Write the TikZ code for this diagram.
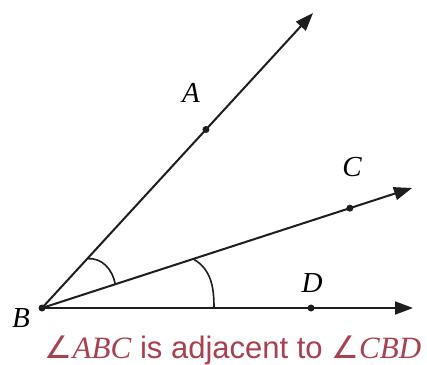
\documentclass[tikz,border=0pt]{standalone}
\usepackage{fontspec}
\setmainfont{Liberation Serif}
\newfontfamily\capsans{Liberation Sans}
\newfontfamily\symfont{DejaVu Sans}
\usetikzlibrary{arrows.meta,calc}
\definecolor{capred}{HTML}{A8404F}
\definecolor{inkline}{HTML}{1E1E1E}
\tikzset{
  ray/.style={draw=inkline, line width=2pt, -{Triangle[length=18pt,width=13pt]}},
  anglearc/.style={draw=inkline, line width=1.6pt},
  ptdot/.style={circle, fill=inkline, inner sep=0pt, minimum size=7pt},
  ptlabel/.style={font=\fontsize{29}{32}\selectfont\itshape, inner sep=0pt},
}
\begin{document}
\begin{tikzpicture}[x=1pt,y=1pt]
\useasboundingbox (0,0) rectangle (427,364);
\fill[white] (0,0) rectangle (427,364);
\coordinate (B) at (42,56);
\coordinate (Atip) at (313,351);
\coordinate (Ctip) at (412,176);
\coordinate (Dtip) at (413,56);
\draw[ray] (B) -- (Atip);
\draw[ray] (B) -- (Ctip);
\draw[ray] (B) -- (Dtip);
\node[ptdot] (Bdot) at (B) {};
\node[ptdot] (Adot) at ($(B)!0.605!(Atip)$) {};
\node[ptdot] (Cdot) at ($(B)!0.832!(Ctip)$) {};
\node[ptdot] (Ddot) at (311,56) {};
\coordinate (a1s) at ($(B)!67pt!(Atip)$);
\coordinate (a1e) at ($(B)!77pt!(Ctip)$);
\coordinate (a2s) at ($(B)!159pt!(Ctip)$);
\coordinate (a2e) at ($(B)!172pt!(Dtip)$);
\draw[anglearc] (a1s) to[out=5,in=100] (a1e);
\draw[anglearc] (a2s) to[out=-30,in=90] (a2e);
\node[ptlabel] (Alab) at (191,271) {A};
\node[ptlabel] (Blab) at (21,46) {B};
\node[ptlabel] (Clab) at (352,197) {C};
\node[ptlabel] (Dlab) at (312,81) {D};
\node[text=capred, inner sep=0pt, anchor=base, font=\fontsize{31}{36}\selectfont] (cap) at (233,6)
  {{\symfont ∠}\textit{ABC}\capsans{} is adjacent to \rmfamily{\symfont ∠}\textit{CBD}};
\end{tikzpicture}
\end{document}
